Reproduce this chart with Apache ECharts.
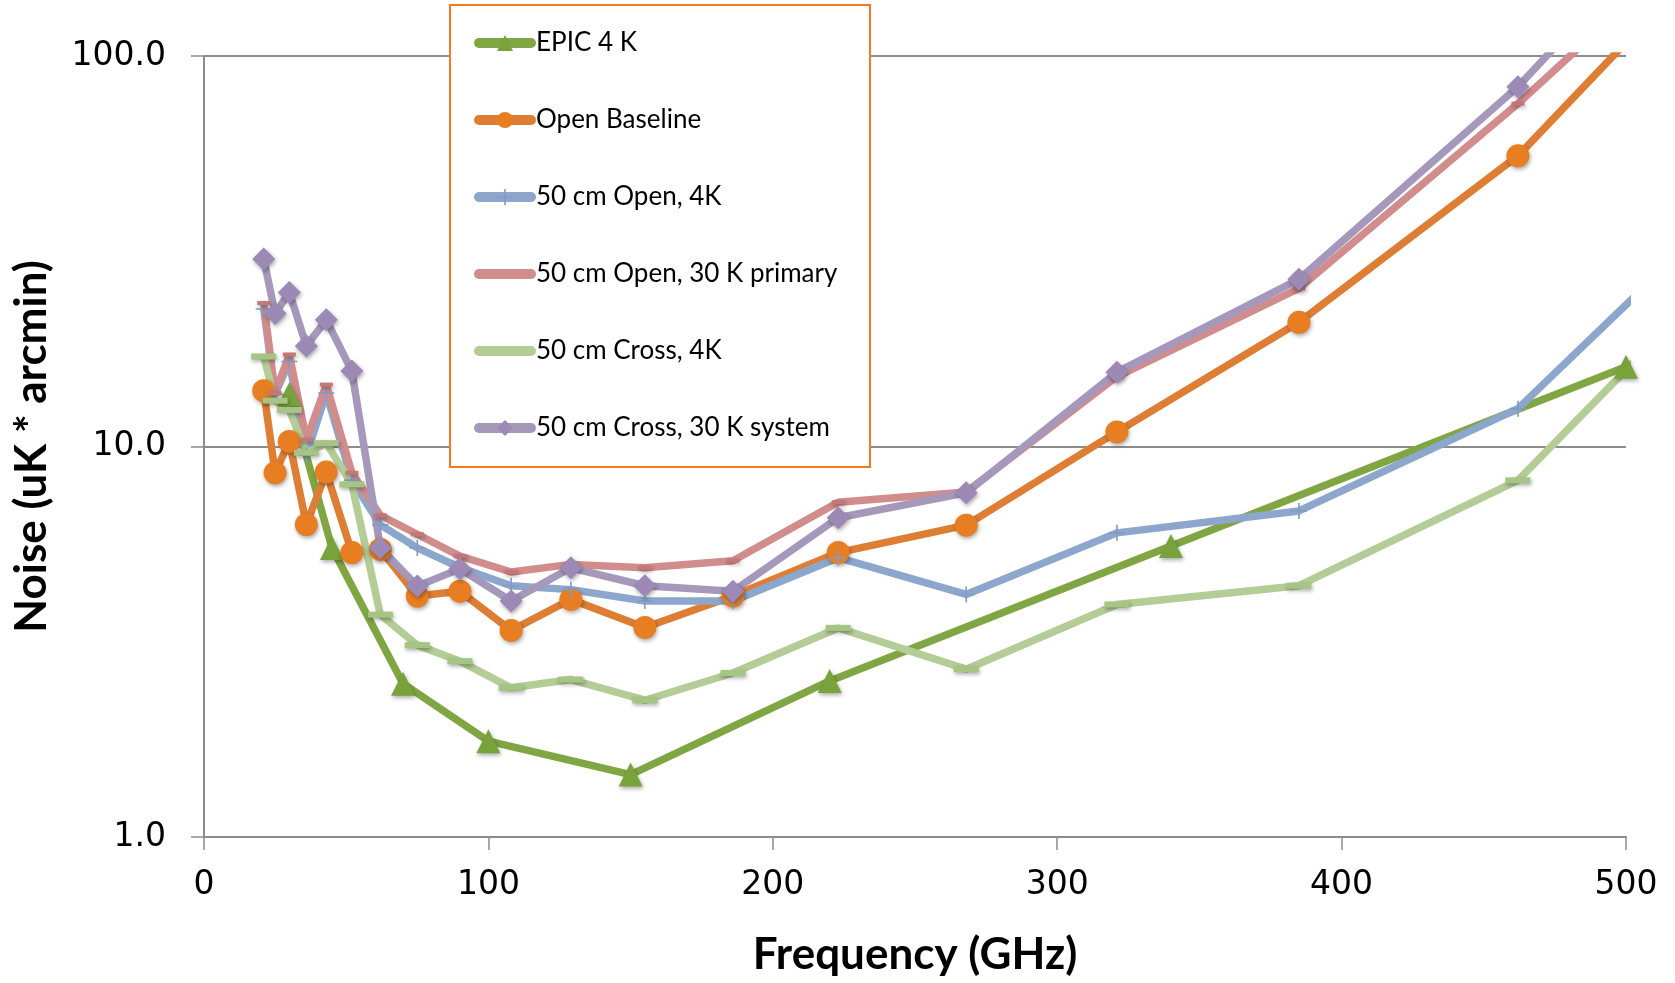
<!DOCTYPE html>
<html>
<head>
<meta charset="utf-8">
<script src="https://cdn.jsdelivr.net/npm/echarts@6/dist/echarts.min.js"></script>
<style>
html,body{margin:0;padding:0;background:#fff;}
#chart{width:1675px;height:983px;}
</style>
</head>
<body>
<div id="chart"></div>
<script>
// Frequencies (GHz)
const freqBands = [21, 25, 30, 36, 43, 52, 62, 75, 90, 108, 129, 155, 186, 223, 268, 321, 385, 462, 555];
const freqEpic = [30, 45, 70, 100, 150, 220, 340, 500];

// Noise values (uK * arcmin)
const epic4K = [13.6, 5.5, 2.47, 1.76, 1.445, 2.51, 5.56, 16.0];
const openBaseline = [13.9, 8.56, 10.3, 6.31, 8.6, 5.35, 5.45, 4.14, 4.26, 3.38, 4.06, 3.44, 4.14, 5.35, 6.29, 10.9, 20.8, 55.5, 285];
const open50cm4K = [22.5, 13.6, 16.5, 9.5, 13.7, 8.2, 6.3, 5.5, 4.9, 4.4, 4.3, 4.02, 4.02, 5.19, 4.18, 6.01, 6.84, 12.5, 56];
const open50cm30K = [23.3, 13.7, 17.2, 10.4, 14.4, 8.56, 6.66, 5.96, 5.24, 4.77, 4.99, 4.89, 5.1, 7.2, 7.65, 15.1, 25.4, 75.5, 315];
const cross50cm4K = [17.0, 13.1, 12.4, 9.64, 10.2, 8.0, 3.71, 3.1, 2.82, 2.41, 2.53, 2.24, 2.63, 3.43, 2.69, 3.94, 4.4, 8.19, 40.3];
const cross50cm30K = [30.2, 21.9, 24.8, 18.1, 21.1, 15.6, 5.5, 4.39, 4.86, 4.02, 4.89, 4.4, 4.26, 6.57, 7.61, 15.5, 26.8, 83.4, 445];

const seriesNames = ['EPIC 4 K', 'Open Baseline', '50 cm Open, 4K', '50 cm Open, 30 K primary', '50 cm Cross, 4K', '50 cm Cross, 30 K system'];
const xTicks = [0, 100, 200, 300, 400, 500];

function pairs(xs, ys) { return xs.map((x, i) => [x, ys[i]]); }

const shadow = {shadowBlur: 4, shadowColor: 'rgba(0,0,0,0.35)', shadowOffsetX: 1, shadowOffsetY: 2};

const chart = echarts.init(document.getElementById('chart'));
chart.setOption({
  backgroundColor: '#fff',
  animation: false,
  grid: {left: 204, right: 49, top: 56, bottom: 146, containLabel: false},
  graphic: [{
    type: 'rect', z: 3,
    shape: {x: 450, y: 5, width: 420, height: 462},
    style: {fill: '#fff', stroke: '#F47A22', lineWidth: 2}
  }],
  legend: {
    orient: 'vertical', left: 474, top: 28, padding: 0,
    itemWidth: 52, itemHeight: 20, itemGap: 47, z: 5,
    lineStyle: {width: 10, cap: 'round'},
    textStyle: {fontFamily: 'Lato', fontSize: 26, color: '#000', lineHeight: 30},
    data: [
      {name: seriesNames[0]},
      {name: seriesNames[1]},
      {name: seriesNames[2]},
      {name: seriesNames[3], itemStyle: {opacity: 0}},
      {name: seriesNames[4], itemStyle: {opacity: 0}},
      {name: seriesNames[5]}
    ]
  },
  xAxis: {
    type: 'value', min: xTicks[0], max: xTicks[xTicks.length - 1], interval: 100,
    name: 'Frequency (GHz)', nameLocation: 'middle', nameGap: 96,
    nameTextStyle: {fontFamily: 'Lato', fontWeight: 'bold', fontSize: 44, color: '#000'},
    axisLine: {show: true, lineStyle: {color: '#8c8c8c', width: 2}},
    axisTick: {show: true, length: 13, lineStyle: {color: '#8c8c8c', width: 1.5}},
    axisLabel: {fontFamily: 'DejaVu Sans', fontSize: 33, color: '#000', margin: 32},
    splitLine: {show: false}
  },
  yAxis: {
    type: 'log', logBase: 10, min: 1, max: 100,
    name: 'Noise (uK * arcmin)', nameLocation: 'middle', nameGap: 150, nameRotate: 90,
    nameTextStyle: {fontFamily: 'Lato', fontWeight: 'bold', fontSize: 44, color: '#000'},
    axisLine: {show: true, lineStyle: {color: '#8c8c8c', width: 2}},
    axisTick: {show: true, length: 13, lineStyle: {color: '#8c8c8c', width: 1.5}},
    axisLabel: {fontFamily: 'DejaVu Sans', fontSize: 33, color: '#000', margin: 38,
      formatter: v => Number(v).toFixed(1)},
    splitLine: {show: true, lineStyle: {color: '#8c8c8c', width: 2}},
    minorTick: {show: false}, minorSplitLine: {show: false}
  },
  series: [
    {
      name: seriesNames[0], type: 'line', data: pairs(freqEpic, epic4K),
      symbol: 'triangle', symbolSize: 24,
      lineStyle: {color: '#80A644', width: 7.5},
      itemStyle: Object.assign({color: '#78A23A'}, shadow)
    },
    {
      name: seriesNames[1], type: 'line', data: pairs(freqBands, openBaseline),
      symbol: 'circle', symbolSize: 23,
      lineStyle: {color: '#DE7E35', width: 7.5},
      itemStyle: Object.assign({color: '#E87E22'}, shadow)
    },
    {
      name: seriesNames[2], type: 'line', data: pairs(freqBands, open50cm4K),
      symbol: 'path://M9,0h2v20h-2z M0,9h20v2h-20z', symbolSize: 16,
      lineStyle: {color: '#8CA6CC', width: 7.5},
      itemStyle: {color: '#7F9CC8'}
    },
    {
      name: seriesNames[3], type: 'line', data: pairs(freqBands, open50cm30K),
      symbol: 'rect', symbolSize: [13, 4],
      lineStyle: {color: '#D18C8C', width: 7.5},
      itemStyle: Object.assign({color: '#C57676'}, shadow)
    },
    {
      name: seriesNames[4], type: 'line', data: pairs(freqBands, cross50cm4K),
      symbol: 'rect', symbolSize: [25, 6],
      lineStyle: {color: '#B4CC95', width: 7.5},
      itemStyle: Object.assign({color: '#A6C484'}, shadow)
    },
    {
      name: seriesNames[5], type: 'line', data: pairs(freqBands, cross50cm30K),
      symbol: 'diamond', symbolSize: 23,
      lineStyle: {color: '#A698BA', width: 7.5},
      itemStyle: Object.assign({color: '#9C89B5'}, shadow)
    }
  ]
});
</script>
</body>
</html>
